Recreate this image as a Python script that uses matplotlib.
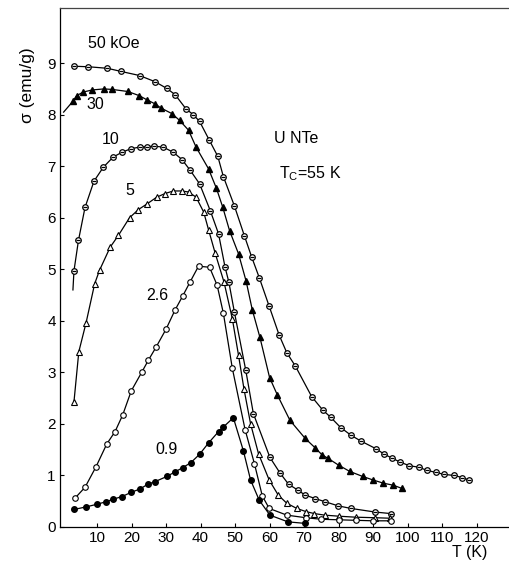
import matplotlib
matplotlib.use("Agg")
import matplotlib.pyplot as plt

plt.rcParams['font.family'] = ['Liberation Sans', 'DejaVu Sans']
plt.rcParams['mathtext.fontset'] = 'custom'
plt.rcParams['mathtext.rm'] = 'Liberation Sans'
plt.rcParams['mathtext.it'] = 'Liberation Sans'

# ---- data (T in K, sigma in emu/g) ----
T50 = [3.3, 7.5, 13.0, 16.9, 22.3, 26.8, 30.2, 32.6, 35.8, 37.9, 39.7, 42.5, 45.0, 46.6,
       49.8, 52.7, 54.8, 57.0, 59.9, 62.8, 65.0, 67.5, 72.2, 75.4, 77.7, 80.6, 83.6, 86.4,
       90.8, 93.3, 95.4, 97.8, 100.5, 103.2, 105.6, 108.1, 110.7, 113.5, 115.8, 117.9]
S50 = [8.94, 8.93, 8.90, 8.84, 8.76, 8.64, 8.51, 8.39, 8.11, 8.00, 7.87, 7.51, 7.19, 6.80,
       6.23, 5.65, 5.24, 4.84, 4.28, 3.72, 3.38, 3.12, 2.53, 2.27, 2.13, 1.93, 1.78, 1.67,
       1.52, 1.41, 1.34, 1.26, 1.19, 1.16, 1.10, 1.06, 1.02, 1.00, 0.96, 0.91]

T30 = [0.3, 3.0, 4.1, 6.0, 8.6, 12.0, 14.4, 18.9, 22.2, 24.4, 26.8, 28.5, 31.7, 33.9, 36.5,
       38.7, 42.3, 44.6, 46.4, 48.4, 51.0, 53.2, 55.0, 57.2, 60.0, 62.2, 65.9, 70.3, 73.3,
       75.2, 77.0, 80.0, 83.2, 87.0, 90.1, 93.0, 95.9, 98.3]
S30 = [8.05, 8.26, 8.37, 8.44, 8.48, 8.50, 8.49, 8.45, 8.37, 8.29, 8.21, 8.13, 8.02, 7.89, 7.70,
       7.37, 6.95, 6.57, 6.21, 5.75, 5.30, 4.77, 4.21, 3.68, 2.90, 2.57, 2.07, 1.72, 1.53,
       1.40, 1.33, 1.20, 1.08, 0.98, 0.91, 0.85, 0.81, 0.75]

T10 = [3.0, 3.3, 4.6, 6.5, 9.1, 11.8, 14.7, 17.2, 19.8, 22.3, 24.4, 26.5, 29.2, 32.1, 34.6,
       37.0, 39.7, 42.8, 45.2, 47.1, 48.2, 49.8, 53.1, 55.3, 60.1, 63.0, 65.5, 68.1, 70.3,
       73.3, 76.1, 79.9, 83.6, 90.6, 95.2]
S10 = [4.60, 4.97, 5.56, 6.20, 6.71, 6.98, 7.18, 7.27, 7.34, 7.37, 7.38, 7.39, 7.37, 7.27, 7.13,
       6.92, 6.66, 6.14, 5.69, 5.04, 4.75, 4.17, 3.04, 2.20, 1.35, 1.05, 0.83, 0.72, 0.62,
       0.55, 0.49, 0.41, 0.36, 0.29, 0.26]

T5 = [3.3, 4.7, 6.8, 9.3, 10.7, 13.8, 16.2, 19.4, 22.0, 24.5, 27.3, 29.7, 32.1, 34.5, 36.5,
      38.7, 40.9, 42.3, 44.2, 46.8, 49.2, 51.0, 52.6, 54.5, 56.8, 59.9, 62.5, 65.0, 67.9,
      70.5, 73.0, 76.0, 80.0, 85.0, 90.6, 95.0]
S5 = [2.43, 3.40, 3.96, 4.72, 4.98, 5.43, 5.66, 6.00, 6.16, 6.27, 6.40, 6.47, 6.52, 6.52, 6.50,
      6.40, 6.11, 5.77, 5.32, 4.75, 4.04, 3.33, 2.67, 2.00, 1.42, 0.91, 0.62, 0.46, 0.36,
      0.30, 0.26, 0.23, 0.21, 0.19, 0.18, 0.17]

T26 = [3.6, 6.5, 9.7, 12.8, 15.2, 17.4, 19.9, 23.0, 24.9, 27.1, 30.0, 32.6, 34.8, 37.0, 39.4,
       42.6, 44.8, 46.6, 49.2, 52.9, 55.6, 57.9, 59.9, 65.0, 70.5, 75.0, 80.0, 85.0, 90.0, 95.2]
S26 = [0.56, 0.77, 1.17, 1.61, 1.85, 2.17, 2.64, 3.01, 3.24, 3.49, 3.84, 4.21, 4.48, 4.76, 5.06,
       5.04, 4.69, 4.15, 3.08, 1.89, 1.23, 0.60, 0.36, 0.23, 0.18, 0.15, 0.14, 0.13, 0.12, 0.12]

T09 = [3.3, 6.8, 9.9, 12.6, 14.7, 17.2, 19.8, 22.5, 24.7, 26.8, 30.2, 32.6, 34.8, 37.2, 39.7,
       42.3, 45.2, 46.6, 49.5, 52.4, 54.5, 57.0, 60.1, 65.3, 70.3]
S09 = [0.34, 0.39, 0.44, 0.49, 0.54, 0.59, 0.67, 0.74, 0.83, 0.88, 0.98, 1.07, 1.15, 1.25, 1.41,
       1.63, 1.85, 1.94, 2.12, 1.48, 0.91, 0.52, 0.23, 0.10, 0.07]

field_labels = ["50 kOe", "30", "10", "5", "2.6", "0.9"]
label_pos = [(14.8, 9.38), (9.6, 8.2), (13.8, 7.52), (19.6, 6.53), (27.4, 4.5), (30.0, 1.5)]
xticks = [10, 20, 30, 40, 50, 60, 70, 80, 90, 100, 110, 120]
yticks = [0, 1, 2, 3, 4, 5, 6, 7, 8, 9]

fig = plt.figure(figsize=(5.09, 5.63), dpi=100)
ax = fig.add_axes([60/509, 1-527/563, 1-60/509, (527-8)/563])

lw = 0.9
ms = 4.0
# 50 kOe: circle with bar
ax.plot(T50, S50, '-', color='k', lw=lw, marker='o', ms=ms, mfc='white', mec='k', mew=0.9)
ax.plot(T50, S50, ls='none', marker='_', ms=2.2, mec='k', mew=0.9)
# 30 kOe: filled triangles (first point is line start only)
ax.plot(T30, S30, '-', color='k', lw=lw, marker='^', ms=ms+0.5, mfc='k', mec='k',
        markevery=slice(1, None))
# 10 kOe: circle with bar (first point is line start only)
ax.plot(T10, S10, '-', color='k', lw=lw, marker='o', ms=ms, mfc='white', mec='k', mew=0.9,
        markevery=slice(1, None))
ax.plot(T10[1:], S10[1:], ls='none', marker='_', ms=2.2, mec='k', mew=0.9)
# 5 kOe: open triangles
ax.plot(T5, S5, '-', color='k', lw=lw, marker='^', ms=ms+0.5, mfc='white', mec='k', mew=0.8)
# 2.6 kOe: open circles
ax.plot(T26, S26, '-', color='k', lw=lw, marker='o', ms=ms, mfc='white', mec='k', mew=0.8)
# 0.9 kOe: filled circles
ax.plot(T09, S09, '-', color='k', lw=lw, marker='o', ms=ms, mfc='k', mec='k')

for lab, (x, y) in zip(field_labels, label_pos):
    ax.text(x, y, lab, fontsize=11.5, ha='center', va='center')

ax.text(61.2, 7.54, "U NTe", fontsize=11.5, ha='left', va='center')
ax.text(62.7, 6.86, r"T$_{\mathrm{C}}$=55 K", fontsize=11.5, ha='left', va='center')

ax.set_xlim(-0.75, 129.4)
ax.set_ylim(0, 10.07)
ax.set_xticks(xticks)
ax.set_yticks(yticks)
ax.tick_params(direction='in', length=3, width=0.8, labelsize=11, pad=3)
ax.spines['right'].set_visible(False)
for s in ['left', 'bottom', 'top']:
    ax.spines[s].set_linewidth(0.9)
ax.spines['top'].set_color('#444444')

ax.text(-0.073, 0.852, "σ (emu/g)", transform=ax.transAxes, rotation=90,
        fontsize=12.5, ha='center', va='center')
ax.text(0.913, -0.05, "T (K)", transform=ax.transAxes, fontsize=11.5,
        ha='center', va='center')

fig.savefig("out.png", dpi=100)
